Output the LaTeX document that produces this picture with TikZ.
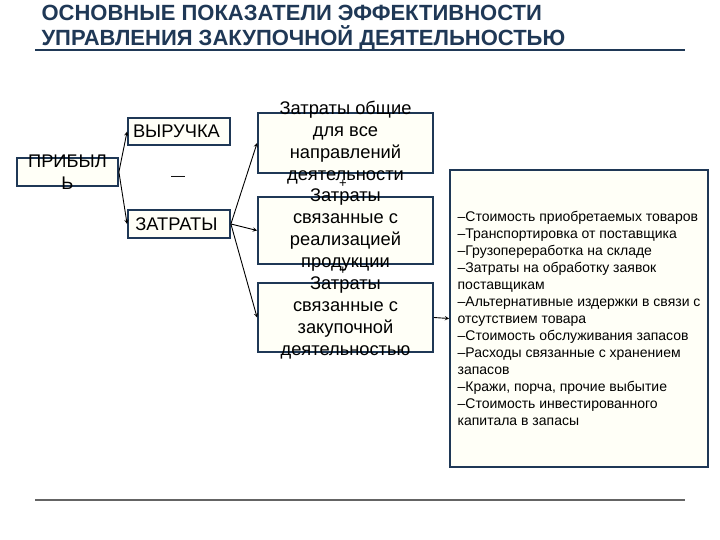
\documentclass[tikz,border=0pt]{standalone}
\usepackage{fontspec}
\setmainfont{Liberation Sans}
\usepackage{tikz}
\usetikzlibrary{positioning}
\definecolor{navy}{RGB}{31, 56, 86}
\definecolor{cream}{RGB}{255, 255, 247}
\definecolor{rule}{RGB}{100, 100, 100}

\begin{document}
\begin{tikzpicture}[x=1pt, y=-1pt,
  box/.style={draw=navy, line width=1.8, fill=cream, inner sep=0},
  boxtext/.style={font=\fontsize{18.3}{22}\selectfont, align=center},
  link/.style={->, >=stealth, line width=0.9}]

  \useasboundingbox[fill=white] (0, 0) rectangle (720, 540);

  % title
  \node[anchor=west, align=left, text=navy,
    font=\fontsize{22}{25}\selectfont\bfseries] (title) at (38, 27.5)
  { ОСНОВНЫЕ ПОКАЗАТЕЛИ ЭФФЕКТИВНОСТИ\\УПРАВЛЕНИЯ ЗАКУПОЧНОЙ ДЕЯТЕЛЬНОСТЬЮ };
  \draw[navy, line width=1.3] (35, 50) -- (685, 50);

  % left part
  \node[box, minimum width=101, minimum height=28] (profit) at (67.5, 172) {};
  \node[boxtext] at (profit) { ПРИБЫЛ\\Ь };

  \node[box, minimum width=102, minimum height=27] (revenue) at (179, 131.5) {};
  \node[boxtext] at (revenue) { ВЫРУЧКА };

  \node[font=\fontsize{14}{14}\selectfont] (minus) at (178, 178) { — };

  \node[box, minimum width=102, minimum height=28] (costs) at (179, 224) {};
  \node[boxtext] at (costs) { ЗАТРАТЫ };

  % cost groups
  \node[box, minimum width=175, minimum height=60] (general) at (345.5, 143) {};
  \node[boxtext] at (general) { Затраты общие\\для все\\направлений\\деятельности };

  \node[font=\fontsize{13}{13}\selectfont] (plus1) at (343, 184) { + };

  \node[box, minimum width=175, minimum height=67] (sales) at (345.5, 230.5) {};
  \node[boxtext] at (sales) { Затраты\\связанные с\\реализацией\\продукции };

  \node[font=\fontsize{13}{13}\selectfont] (plus2) at (343, 271) { + };

  \node[box, minimum width=175, minimum height=69] (purchase) at (345.5, 317.5) {};
  \node[boxtext] at (purchase) { Затраты\\связанные с\\закупочной\\деятельностью };

  % list of purchase costs
  \node[box, minimum width=258, minimum height=297] (items) at (579, 318.5) {};
  \node[anchor=west, align=left, font=\fontsize{14}{17}\selectfont]
  at ([xshift=5]items.west)
  { –Стоимость приобретаемых товаров\\
    –Транспортировка от поставщика\\
    –Грузопереработка на складе\\
    –Затраты на обработку заявок\\
    поставщикам\\
    –Альтернативные издержки в связи с\\
    отсутствием товара\\
    –Стоимость обслуживания запасов\\
    –Расходы связанные с хранением\\
    запасов\\
    –Кражи, порча, прочие выбытие\\
    –Стоимость инвестированного\\
    капитала в запасы };

  \draw[link] (profit.east) -- (revenue.west);
  \draw[link] (profit.east) -- (costs.west);
  \draw[link] (costs.east) -- (general.west);
  \draw[link] (costs.east) -- (sales.west);
  \draw[link] (costs.east) -- (purchase.west);
  \draw[link] (purchase.east) -- (items.west);

  \draw[rule, line width=1.3] (35, 500) -- (685, 500);

\end{tikzpicture}
\end{document}
